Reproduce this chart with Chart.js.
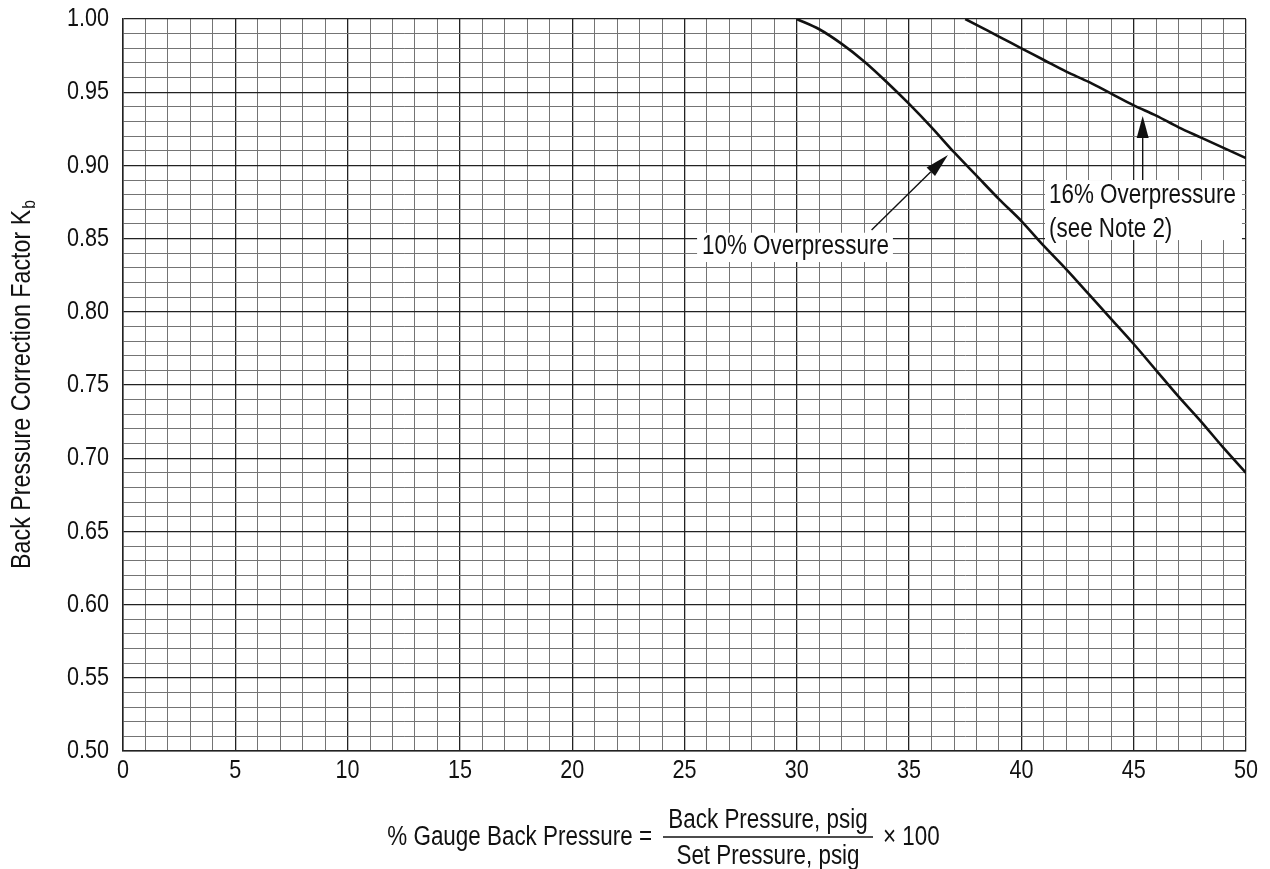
<!DOCTYPE html>
<html>
<head>
<meta charset="utf-8">
<script src="https://cdn.jsdelivr.net/npm/chart.js@4.4.1/dist/chart.umd.min.js"></script>
<style>
  html, body { margin: 0; padding: 0; background: #fff; }
  #wrap { width: 1270px; height: 869px; }
</style>
</head>
<body>
<div id="wrap"><canvas id="kbChart" width="1270" height="869"></canvas></div>
<script>
const FONT = "'Liberation Sans', Arial, sans-serif";
const SQ = 0.83; // horizontal squeeze, the original uses a narrow face

// curves: % gauge back pressure -> Kb
const gauge10 = [30, 31, 32, 33, 34, 35, 36, 37, 38, 39, 40, 41, 42, 43, 44, 45, 46, 47, 48, 49, 50];
const kb10 = [1.000, 0.993, 0.983, 0.971, 0.957, 0.942, 0.926, 0.909, 0.893, 0.877, 0.862,
              0.845, 0.829, 0.812, 0.795, 0.778, 0.760, 0.742, 0.725, 0.707, 0.690];

const gauge16 = [37.5, 38, 39, 40, 41, 42, 43, 44, 45, 46, 47, 48, 49, 50];
const kb16 = [1.000, 0.996, 0.988, 0.980, 0.972, 0.964, 0.957, 0.949, 0.941, 0.934, 0.926, 0.919, 0.912, 0.905];

// labelled ticks
const xTickValues = [0, 5, 10, 15, 20, 25, 30, 35, 40, 45, 50];
const xTickLabels = ['0', '5', '10', '15', '20', '25', '30', '35', '40', '45', '50'];
const yTickValues = [50, 55, 60, 65, 70, 75, 80, 85, 90, 95, 100]; // in hundredths
const yTickLabels = ['0.50', '0.55', '0.60', '0.65', '0.70', '0.75', '0.80', '0.85', '0.90', '0.95', '1.00'];

const toPoints = (xs, ys) => xs.map((x, i) => ({ x: x, y: ys[i] }));

const MINOR = '#747474';
const MAJOR = '#222';
const INK = '#111';

// callouts (data units)
const notes = {
  box10: { x0: 25.56, x1: 34.28, y0: 0.854, y1: 0.834 },
  text10: { x: 25.78, y: 0.8443 },
  arrow10: { x0: 33.33, y0: 0.8559, x1: 36.73, y1: 0.9071 },
  box16: { x0: 41.05, x1: 49.82, y0: 0.890, y1: 0.849 },
  text16: { x: 41.23, y1: 0.8791, y2: 0.8559 },
  arrow16: { x0: 45.4, y0: 0.890, x1: 45.4, y1: 0.9337 }
};

function tickLabel(values, labels, v) {
  const i = values.indexOf(v);
  return i >= 0 ? labels[i] : '';
}

function text(ctx, str, x, y, size, align) {
  ctx.save();
  ctx.font = size + 'px ' + FONT;
  ctx.translate(x, y);
  ctx.scale(SQ, 1);
  ctx.textAlign = align;
  ctx.textBaseline = 'middle';
  ctx.fillText(str, 0, 0);
  ctx.restore();
}

function textWidth(ctx, str, size) {
  ctx.save();
  ctx.font = size + 'px ' + FONT;
  const w = ctx.measureText(str).width * SQ;
  ctx.restore();
  return w;
}

function arrow(ctx, x0, y0, x1, y1, len, half) {
  const a = Math.atan2(y1 - y0, x1 - x0);
  const bx = x1 - Math.cos(a) * len, by = y1 - Math.sin(a) * len;
  ctx.beginPath();
  ctx.moveTo(x0, y0);
  ctx.lineTo(bx, by);
  ctx.stroke();
  ctx.beginPath();
  ctx.moveTo(x1, y1);
  ctx.lineTo(bx + Math.sin(a) * half, by - Math.cos(a) * half);
  ctx.lineTo(bx - Math.sin(a) * half, by + Math.cos(a) * half);
  ctx.closePath();
  ctx.fill();
}

const extras = {
  id: 'extras',
  afterDraw(chart) {
    const ctx = chart.ctx;
    const xs = chart.scales.x, ys = chart.scales.y;
    const area = chart.chartArea;
    const px = v => xs.getPixelForValue(v), py = v => ys.getPixelForValue(v);
    ctx.save();
    ctx.fillStyle = INK;
    ctx.strokeStyle = INK;

    // tick labels
    xs.ticks.forEach(t => {
      const s = tickLabel(xTickValues, xTickLabels, Math.round(t.value));
      if (s) text(ctx, s, px(t.value), area.bottom + 20, 26, 'center');
    });
    ys.ticks.forEach(t => {
      const s = tickLabel(yTickValues, yTickLabels, Math.round(t.value * 100));
      if (s) text(ctx, s, area.left - 14, py(t.value), 26, 'right');
    });

    // callouts
    ctx.fillStyle = '#fff';
    [notes.box10, notes.box16].forEach(b => {
      ctx.fillRect(px(b.x0), py(b.y0), px(b.x1) - px(b.x0), py(b.y1) - py(b.y0));
    });
    ctx.fillStyle = INK;
    text(ctx, '10% Overpressure', px(notes.text10.x), py(notes.text10.y), 27, 'left');
    text(ctx, '16% Overpressure', px(notes.text16.x), py(notes.text16.y1), 27, 'left');
    text(ctx, '(see Note 2)', px(notes.text16.x), py(notes.text16.y2), 27, 'left');

    ctx.lineWidth = 1.4;
    const a1 = notes.arrow10, a2 = notes.arrow16;
    arrow(ctx, px(a1.x0), py(a1.y0), px(a1.x1), py(a1.y1), 24, 6);
    arrow(ctx, px(a2.x0), py(a2.y0), px(a2.x1), py(a2.y1), 22, 6);

    // x axis title with fraction
    const midY = area.bottom + 87;
    const fracX = 768;
    text(ctx, '% Gauge Back Pressure =', 652, midY, 27, 'right');
    text(ctx, 'Back Pressure, psig', fracX, midY - 17, 27, 'center');
    text(ctx, 'Set Pressure, psig', fracX, midY + 19, 27, 'center');
    ctx.beginPath();
    ctx.lineWidth = 1.5;
    ctx.moveTo(663, midY - 1);
    ctx.lineTo(873, midY - 1);
    ctx.stroke();
    text(ctx, '\u00d7 100', 883, midY, 27, 'left');

    // y axis title with subscript
    const main = 'Back Pressure Correction Factor K';
    const w1 = textWidth(ctx, main, 28);
    const w2 = textWidth(ctx, 'b', 19);
    ctx.translate(22, 385);
    ctx.rotate(-Math.PI / 2);
    text(ctx, main, -(w1 + w2) / 2, 0, 28, 'left');
    text(ctx, 'b', -(w1 + w2) / 2 + w1 + 1, 8, 19, 'left');
    ctx.restore();
  }
};

new Chart(document.getElementById('kbChart').getContext('2d'), {
  type: 'line',
  data: {
    datasets: [
      {
        label: '10% Overpressure',
        data: toPoints(gauge10, kb10),
        borderColor: INK,
        borderWidth: 2.6,
        pointRadius: 0,
        fill: false,
        cubicInterpolationMode: 'monotone'
      },
      {
        label: '16% Overpressure',
        data: toPoints(gauge16, kb16),
        borderColor: INK,
        borderWidth: 2.6,
        pointRadius: 0,
        fill: false,
        cubicInterpolationMode: 'monotone'
      }
    ]
  },
  options: {
    responsive: false,
    animation: false,
    layout: { padding: { top: 19, right: 24, left: 0, bottom: 0 } },
    plugins: {
      legend: { display: false },
      tooltip: { enabled: false }
    },
    scales: {
      x: {
        type: 'linear',
        min: 0,
        max: 50,
        afterFit: s => { s.height = 118; },
        ticks: {
          display: false,
          stepSize: 1,
          maxTicksLimit: 200,
          autoSkip: false,
          callback: v => tickLabel(xTickValues, xTickLabels, Math.round(v))
        },
        grid: {
          drawTicks: false,
          lineWidth: c => (Math.round(c.tick.value) % 5 === 0 ? 1.3 : 1),
          color: c => (Math.round(c.tick.value) % 5 === 0 ? MAJOR : MINOR)
        },
        border: { color: MAJOR, width: 1.5 }
      },
      y: {
        min: 0.5,
        max: 1.0,
        afterFit: s => { s.width = 123; },
        ticks: {
          display: false,
          stepSize: 0.01,
          maxTicksLimit: 200,
          autoSkip: false,
          callback: v => tickLabel(yTickValues, yTickLabels, Math.round(v * 100))
        },
        grid: {
          drawTicks: false,
          lineWidth: c => (Math.round(c.tick.value * 100) % 5 === 0 ? 1.3 : 1),
          color: c => (Math.round(c.tick.value * 100) % 5 === 0 ? MAJOR : MINOR)
        },
        border: { color: MAJOR, width: 1.5 }
      }
    }
  },
  plugins: [extras]
});
</script>
</body>
</html>
